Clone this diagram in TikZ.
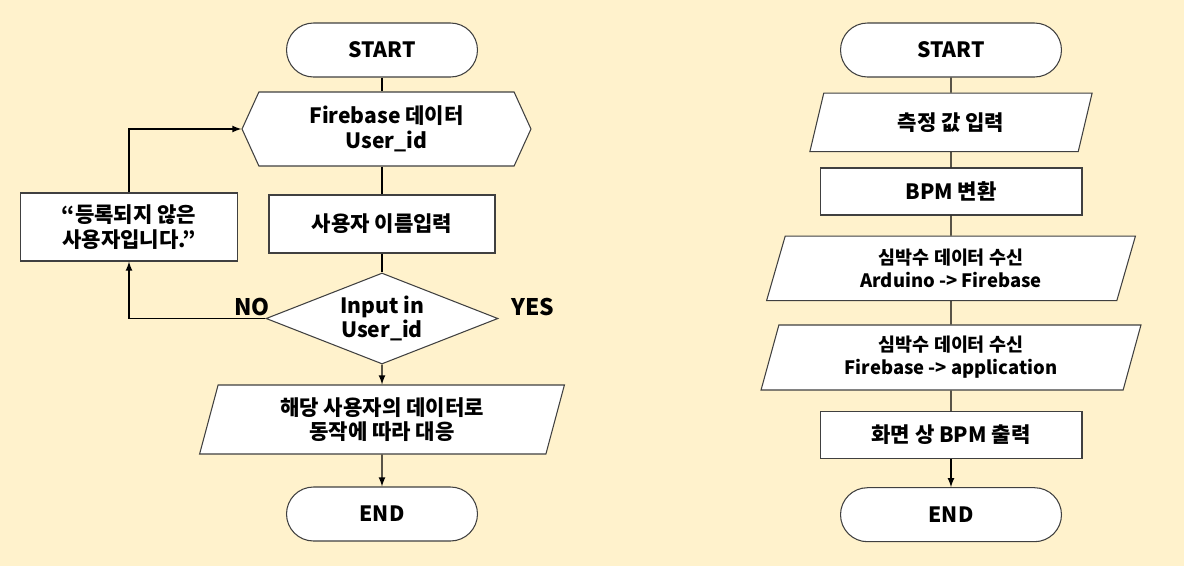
\documentclass[tikz,border=0pt]{standalone}
\usepackage{fontspec}
\setmainfont{Noto Sans CJK KR}
\usepackage{tikz}
\usetikzlibrary{arrows,shapes.geometric,shapes.symbols}
\definecolor{bgcream}{HTML}{FFF2CC}
\definecolor{edgegray}{HTML}{404040}
\tikzset{
    box/.style = {align=center, inner sep=2pt, text centered, font=\fontsize{12}{14}\selectfont\bfseries, draw=edgegray, fill=white, line width=0.6pt},
    node_term/.style = {box, rectangle, rounded corners=0.54cm, minimum height=1.08cm},
    node_proc/.style = {box, rectangle},
    node_io/.style = {box, trapezium, trapezium stretches=true, trapezium left angle=77, trapezium right angle=103},
    node_dec/.style = {box, diamond, aspect=2.55, inner sep=0pt, minimum width=4.64cm, minimum height=1.82cm},
    node_hex/.style = {box, signal, signal to=east and west, signal pointer angle=131},
    node_lbl/.style = {font=\fontsize{13}{15}\selectfont\bfseries, inner sep=0pt},
    conn/.style = {draw=black, line width=0.8pt}
}
\begin{document}
\begin{tikzpicture}[x=0.02cm, y=-0.02cm, >=latex]
    \fill[bgcream] (0,0) rectangle (1184,566);
    \useasboundingbox (0,0) rectangle (1184,566);
    % left chart
    \node [node_term, minimum width=3.82cm] (start1) at (382,50) {START};
    \node [node_hex, minimum width=5.78cm, minimum height=1.48cm] (fb) at (386.5,129) {Firebase 데이터\\User\_id};
    \node [node_proc, minimum width=4.52cm, minimum height=1.16cm] (name) at (382,224) {사용자 이름입력};
    \node [node_dec] (chk) at (382,318.5) {Input in\\User\_id};
    \node [node_io, minimum width=7.30cm, minimum height=1.38cm] (act) at (382,419.5) {해당 사용자의 데이터로\\동작에 따라 대응};
    \node [node_term, minimum width=3.82cm] (end1) at (382,514) {END};
    \node [node_proc, minimum width=4.34cm, minimum height=1.36cm] (msg) at (129,227) {“등록되지 않은\\사용자입니다.”};
    \node [node_lbl] (no) at (252,307) {NO};
    \node [node_lbl] (yes) at (533,307) {YES};
    \draw [conn] (start1) -- (start1 |- fb.north);
    \draw [conn] (name |- fb.south) -- (name);
    \draw [conn] (name) -- (chk);
    \draw [conn, ->] (chk) -- (act);
    \draw [conn, ->] (act) -- (end1);
    \draw [conn, ->] (chk.west) -| (msg.south);
    \draw [conn, ->] (msg.north) |- (fb.west);
    % right chart
    \node [node_term, minimum width=4.42cm] (start2) at (951,50) {START};
    \node [node_io, minimum width=5.66cm, minimum height=1.17cm] (meas) at (951,122.3) {측정 값 입력};
    \node [node_proc, minimum width=5.24cm, minimum height=0.94cm] (bpm) at (951,191.5) {BPM 변환};
    \node [node_io, minimum width=7.38cm, minimum height=1.29cm, font=\fontsize{10.5}{13}\selectfont\bfseries] (recv1) at (951,268.4) {심박수 데이터 수신\\Arduino -> Firebase};
    \node [node_io, minimum width=7.60cm, minimum height=1.30cm, font=\fontsize{10.5}{13}\selectfont\bfseries] (recv2) at (951,357.5) {심박수 데이터 수신\\Firebase -> application};
    \node [node_proc, minimum width=5.24cm, minimum height=0.93cm] (show) at (951,435) {화면 상 BPM 출력};
    \node [node_term, minimum width=4.42cm] (end2) at (951,514.7) {END};
    \draw [conn] (start2) -- (meas);
    \draw [conn] (meas) -- (bpm);
    \draw [conn] (bpm) -- (recv1);
    \draw [conn] (recv1) -- (recv2);
    \draw [conn] (recv2) -- (show);
    \draw [conn, ->] (show) -- (end2);
\end{tikzpicture}
\end{document}
